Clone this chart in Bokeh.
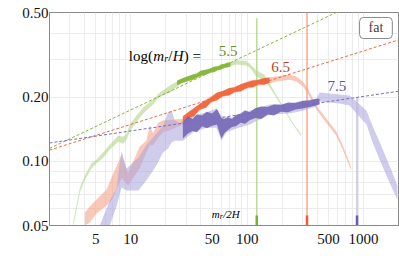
from bokeh.plotting import figure
from bokeh.models import FixedTicker, Label
from bokeh.embed import file_html
from bokeh.resources import INLINE

# ---- axis ticks ----
x_ticks = [5, 10, 50, 100, 500, 1000]
x_tick_labels = ["5", "10", "50", "100", "500", "1000"]
x_minor = [2, 3, 4, 6, 7, 8, 9, 20, 30, 40, 60, 70, 80, 90, 200, 300, 400, 600, 700, 800, 900, 2000]
y_ticks = [0.05, 0.1, 0.2, 0.5]
y_tick_labels = ["0.05", "0.10", "0.20", "0.50"]
y_minor = [0.06, 0.07, 0.08, 0.09, 0.3, 0.4]

# ---- log(m_r/H) = 5.5 (green) ----
green_x = [3.2, 3.65, 4.03, 4.6, 5.08, 5.78, 6.6, 7.78, 8.59, 9.19, 9.8, 11.2, 12.8, 15.5, 17.7,
           21.6, 27.9, 39.1, 54.4, 66.4, 80.8, 98.4, 105, 120, 141, 166, 203, 247, 292]
green_lo = [0.049, 0.0714, 0.082, 0.0926, 0.098, 0.104, 0.1135, 0.1235, 0.121, 0.1265, 0.138, 0.153,
            0.168, 0.185, 0.201, 0.21, 0.235, 0.252, 0.268, 0.276, 0.285, 0.282, 0.276, 0.25, 0.24,
            0.212, 0.177, 0.149, 0.131]
green_hi = [0.052, 0.0754, 0.086, 0.098, 0.102, 0.11, 0.12, 0.132, 0.1305, 0.135, 0.149, 0.164,
            0.179, 0.195, 0.21, 0.227, 0.245, 0.264, 0.278, 0.288, 0.298, 0.295, 0.288, 0.268, 0.255,
            0.22, 0.182, 0.152, 0.134]
green_dark_x = [25, 28, 31, 34, 37, 40, 44, 48, 52, 56, 60, 64, 68, 72]
green_dark_lo = [0.228, 0.234, 0.238, 0.241, 0.247, 0.252, 0.255, 0.261, 0.262, 0.268, 0.270, 0.275, 0.276, 0.280]
green_dark_hi = [0.240, 0.246, 0.251, 0.256, 0.258, 0.267, 0.269, 0.273, 0.279, 0.280, 0.286, 0.287, 0.291, 0.292]

# ---- log(m_r/H) = 6.5 (red) ----
red_x = [4.03, 4.45, 5.08, 6.19, 6.83, 8.32, 9.48, 11.9, 13.6, 14.6, 15.5, 17.2, 18.9, 21.6, 28.1,
         39.1, 54.4, 75.5, 105, 156, 178, 232, 264, 301, 333, 393, 479, 583, 664, 784]
red_lo = [0.05, 0.0516, 0.0569, 0.062, 0.0655, 0.0835, 0.077, 0.0926, 0.11, 0.119, 0.119, 0.129,
          0.137, 0.14, 0.149, 0.173, 0.195, 0.208, 0.222, 0.232, 0.237, 0.242, 0.237, 0.225, 0.208,
          0.175, 0.152, 0.132, 0.1135, 0.0906]
red_hi = [0.0575, 0.0614, 0.0662, 0.0738, 0.084, 0.107, 0.088, 0.117, 0.125, 0.148, 0.135, 0.152,
          0.156, 0.156, 0.159, 0.187, 0.2105, 0.222, 0.24, 0.248, 0.25, 0.256, 0.25, 0.237, 0.22,
          0.183, 0.159, 0.1385, 0.119, 0.094]
red_dark_x = [28, 31, 35, 39, 44, 49, 55, 62, 70, 78, 88, 100, 112, 125, 140, 156]
red_dark_lo = [0.151, 0.160, 0.163, 0.175, 0.178, 0.190, 0.193, 0.203, 0.204, 0.212, 0.213, 0.222,
               0.222, 0.230, 0.229, 0.234]
red_dark_hi = [0.163, 0.170, 0.178, 0.186, 0.193, 0.200, 0.210, 0.214, 0.221, 0.223, 0.230, 0.235,
               0.240, 0.241, 0.246, 0.247]

# ---- log(m_r/H) = 7.5 (purple) ----
purple_x = [5.41, 6.6, 7.54, 8.32, 9.19, 9.8, 11.6, 13.6, 16.6, 18.9, 20.9, 22.4, 23.9, 26.3, 28.1,
            34.3, 44.7, 54.4, 60.1, 66.4, 80.8, 105, 156, 232, 301, 393, 419, 622, 758, 871, 1062,
            1195, 1371, 1607, 1958]
purple_lo = [0.0484, 0.05, 0.0614, 0.0754, 0.073, 0.073, 0.073, 0.0813, 0.0957, 0.11, 0.115, 0.1227,
             0.125, 0.125, 0.125, 0.137, 0.144, 0.144, 0.125, 0.137, 0.1427, 0.149, 0.166, 0.168,
             0.173, 0.181, 0.191, 0.187, 0.183, 0.168, 0.149, 0.123, 0.1025, 0.0835, 0.066]
purple_hi = [0.05, 0.0655, 0.0746, 0.112, 0.0926, 0.0957, 0.104, 0.119, 0.135, 0.147, 0.17, 0.173,
             0.156, 0.151, 0.156, 0.164, 0.17, 0.177, 0.164, 0.159, 0.1625, 0.173, 0.185, 0.187,
             0.193, 0.197, 0.2105, 0.206, 0.204, 0.191, 0.173, 0.147, 0.124, 0.101, 0.077]
purple_dark_x = [28, 31, 34, 37, 41, 45, 50, 55, 60, 64, 68, 74, 80, 88, 96, 105, 118, 132, 150,
                 170, 195, 225, 260, 300, 345, 390, 419]
purple_dark_lo = [0.128, 0.135, 0.139, 0.137, 0.146, 0.143, 0.147, 0.149, 0.128, 0.136, 0.140, 0.145,
                  0.146, 0.152, 0.150, 0.156, 0.160, 0.158, 0.166, 0.164, 0.171, 0.170, 0.175, 0.177,
                  0.180, 0.183, 0.185]
purple_dark_hi = [0.152, 0.163, 0.158, 0.166, 0.164, 0.171, 0.168, 0.176, 0.160, 0.158, 0.162, 0.158,
                  0.165, 0.168, 0.174, 0.170, 0.178, 0.181, 0.180, 0.185, 0.184, 0.189, 0.188, 0.192,
                  0.193, 0.197, 0.197]

# ---- power-law fits (dashed), end points ----
fit_x = [2, 2000]
green_fit = [0.115, 0.688]
red_fit = [0.113, 0.372]
purple_fit = [0.122, 0.2135]

# ---- m_r/2H resonance positions and spikes ----
mr2H = [121, 327, 880]
spike_top = [0.47, 0.5, 0.2]
spike_bottom = [0.05, 0.05, 0.05]
marker_top = [0.0557, 0.0557, 0.0557]

pale = ["#b3d48a", "#f4a48a", "#aaa2da"]
dark = ["#7cb02c", "#ef5a2e", "#6a5bb2"]
spike_col = ["#b4d689", "#f39c80", "#bdb6e2"]
fit_col = ["#86b53a", "#ee6a40", "#7a6cc0"]
label_col = ["#6f8c2a", "#b04a2c", "#5c5494"]

SERIF = "'Liberation Serif', 'Times New Roman', serif"

p = figure(width=399, height=273, x_axis_type="log", y_axis_type="log",
           x_range=(2, 2000), y_range=(0.05, 0.5),
           output_backend="svg", toolbar_location=None,
           min_border_left=49, min_border_right=1, min_border_top=12, min_border_bottom=48)
p.outline_line_color = "#8a8a8a"
p.outline_line_width = 1
p.background_fill_color = "white"
p.border_fill_color = "white"

p.xaxis.ticker = FixedTicker(ticks=x_ticks, minor_ticks=x_minor)
p.yaxis.ticker = FixedTicker(ticks=y_ticks, minor_ticks=y_minor)
p.xaxis.major_label_overrides = {v: s for v, s in zip(x_ticks, x_tick_labels)}
p.yaxis.major_label_overrides = {v: s for v, s in zip(y_ticks, y_tick_labels)}
for ax in (p.xaxis, p.yaxis):
    ax.axis_line_color = "#8a8a8a"
    ax.major_tick_line_color = None
    ax.minor_tick_line_color = None
    ax.major_tick_out = 0
    ax.major_tick_in = 0
    ax.minor_tick_out = 0
    ax.minor_tick_in = 0
    ax.major_label_text_font = SERIF
    ax.major_label_text_font_size = "15px"
    ax.major_label_text_color = "#111111"
p.xaxis.major_label_standoff = 8
p.yaxis.major_label_standoff = 1
for g in (p.xgrid, p.ygrid):
    g.grid_line_color = "#ececec"
    g.minor_grid_line_color = "#ececec"

# pale bands
p.varea(x=green_x, y1=green_lo, y2=green_hi, fill_color=pale[0], fill_alpha=0.6)
p.varea(x=red_x, y1=red_lo, y2=red_hi, fill_color=pale[1], fill_alpha=0.6)
p.varea(x=purple_x, y1=purple_lo, y2=purple_hi, fill_color=pale[2], fill_alpha=0.55)

# spikes at m_r/2H
for i in range(3):
    p.line(x=[mr2H[i], mr2H[i]], y=[spike_bottom[i], spike_top[i]], line_color=spike_col[i], line_width=1.3)

# dark (fit region) bands
p.varea(x=green_dark_x, y1=green_dark_lo, y2=green_dark_hi, fill_color=dark[0], fill_alpha=0.85)
p.varea(x=red_dark_x, y1=red_dark_lo, y2=red_dark_hi, fill_color=dark[1], fill_alpha=0.85)
p.varea(x=purple_dark_x, y1=purple_dark_lo, y2=purple_dark_hi, fill_color=dark[2], fill_alpha=0.8)

# dashed power-law fits
for fy, c in zip([green_fit, red_fit, purple_fit], fit_col):
    p.line(x=fit_x, y=fy, line_color=c, line_width=1, line_dash="3 2")

# markers at the bottom
for i in range(3):
    p.line(x=[mr2H[i], mr2H[i]], y=[spike_bottom[i], marker_top[i]], line_color=dark[i], line_width=2.5)

# ---- texts ----
def lab(x, y, text, size="15px", color="black", style="normal", align="left",
        baseline="alphabetic", xo=0, yo=0):
    p.add_layout(Label(x=x, y=y, text=text, text_font=SERIF, text_font_size=size,
                       text_color=color, text_font_style=style, text_align=align,
                       text_baseline=baseline, x_offset=xo, y_offset=yo))

# log(m_r/H) =
ax0, ay0 = 9.61, 0.314
lab(ax0, ay0, "log(")
lab(ax0, ay0, "m", style="italic", xo=24.5)
lab(ax0, ay0, "r", size="10px", style="italic", xo=35.5, yo=-3)
lab(ax0, ay0, "/", xo=39.5)
lab(ax0, ay0, "H", style="italic", xo=44)
lab(ax0, ay0, ") =", xo=55)

lab(68.7, 0.331, "5.5", color=label_col[0], align="center", baseline="middle")
lab(194, 0.276, "6.5", color=label_col[1], align="center", baseline="middle")
lab(592, 0.227, "7.5", color=label_col[2], align="center", baseline="middle")

# m_r/2H
bx0, by0 = 49.6, 0.0569
lab(bx0, by0, "m", size="11px", style="italic")
lab(bx0, by0, "r", size="8px", style="italic", xo=8, yo=-2.5)
lab(bx0, by0, "/2H", size="11px", style="italic", xo=11.5)

# axis titles
lab(0.76, 0.144, "xF", style="italic")
lab(61.3, 0.0335, "x", style="italic", align="center")

# legend box
p.add_layout(Label(x=1280, y=0.423, text="fat", text_font=SERIF, text_font_size="14px",
                   text_align="center", text_baseline="middle",
                   border_line_color="#8a8a8a", border_line_width=1,
                   background_fill_color="white",
                   padding=dict(left=9, right=9, top=3, bottom=3), border_radius=4))

open("out.html", "w").write(file_html(p, INLINE))
